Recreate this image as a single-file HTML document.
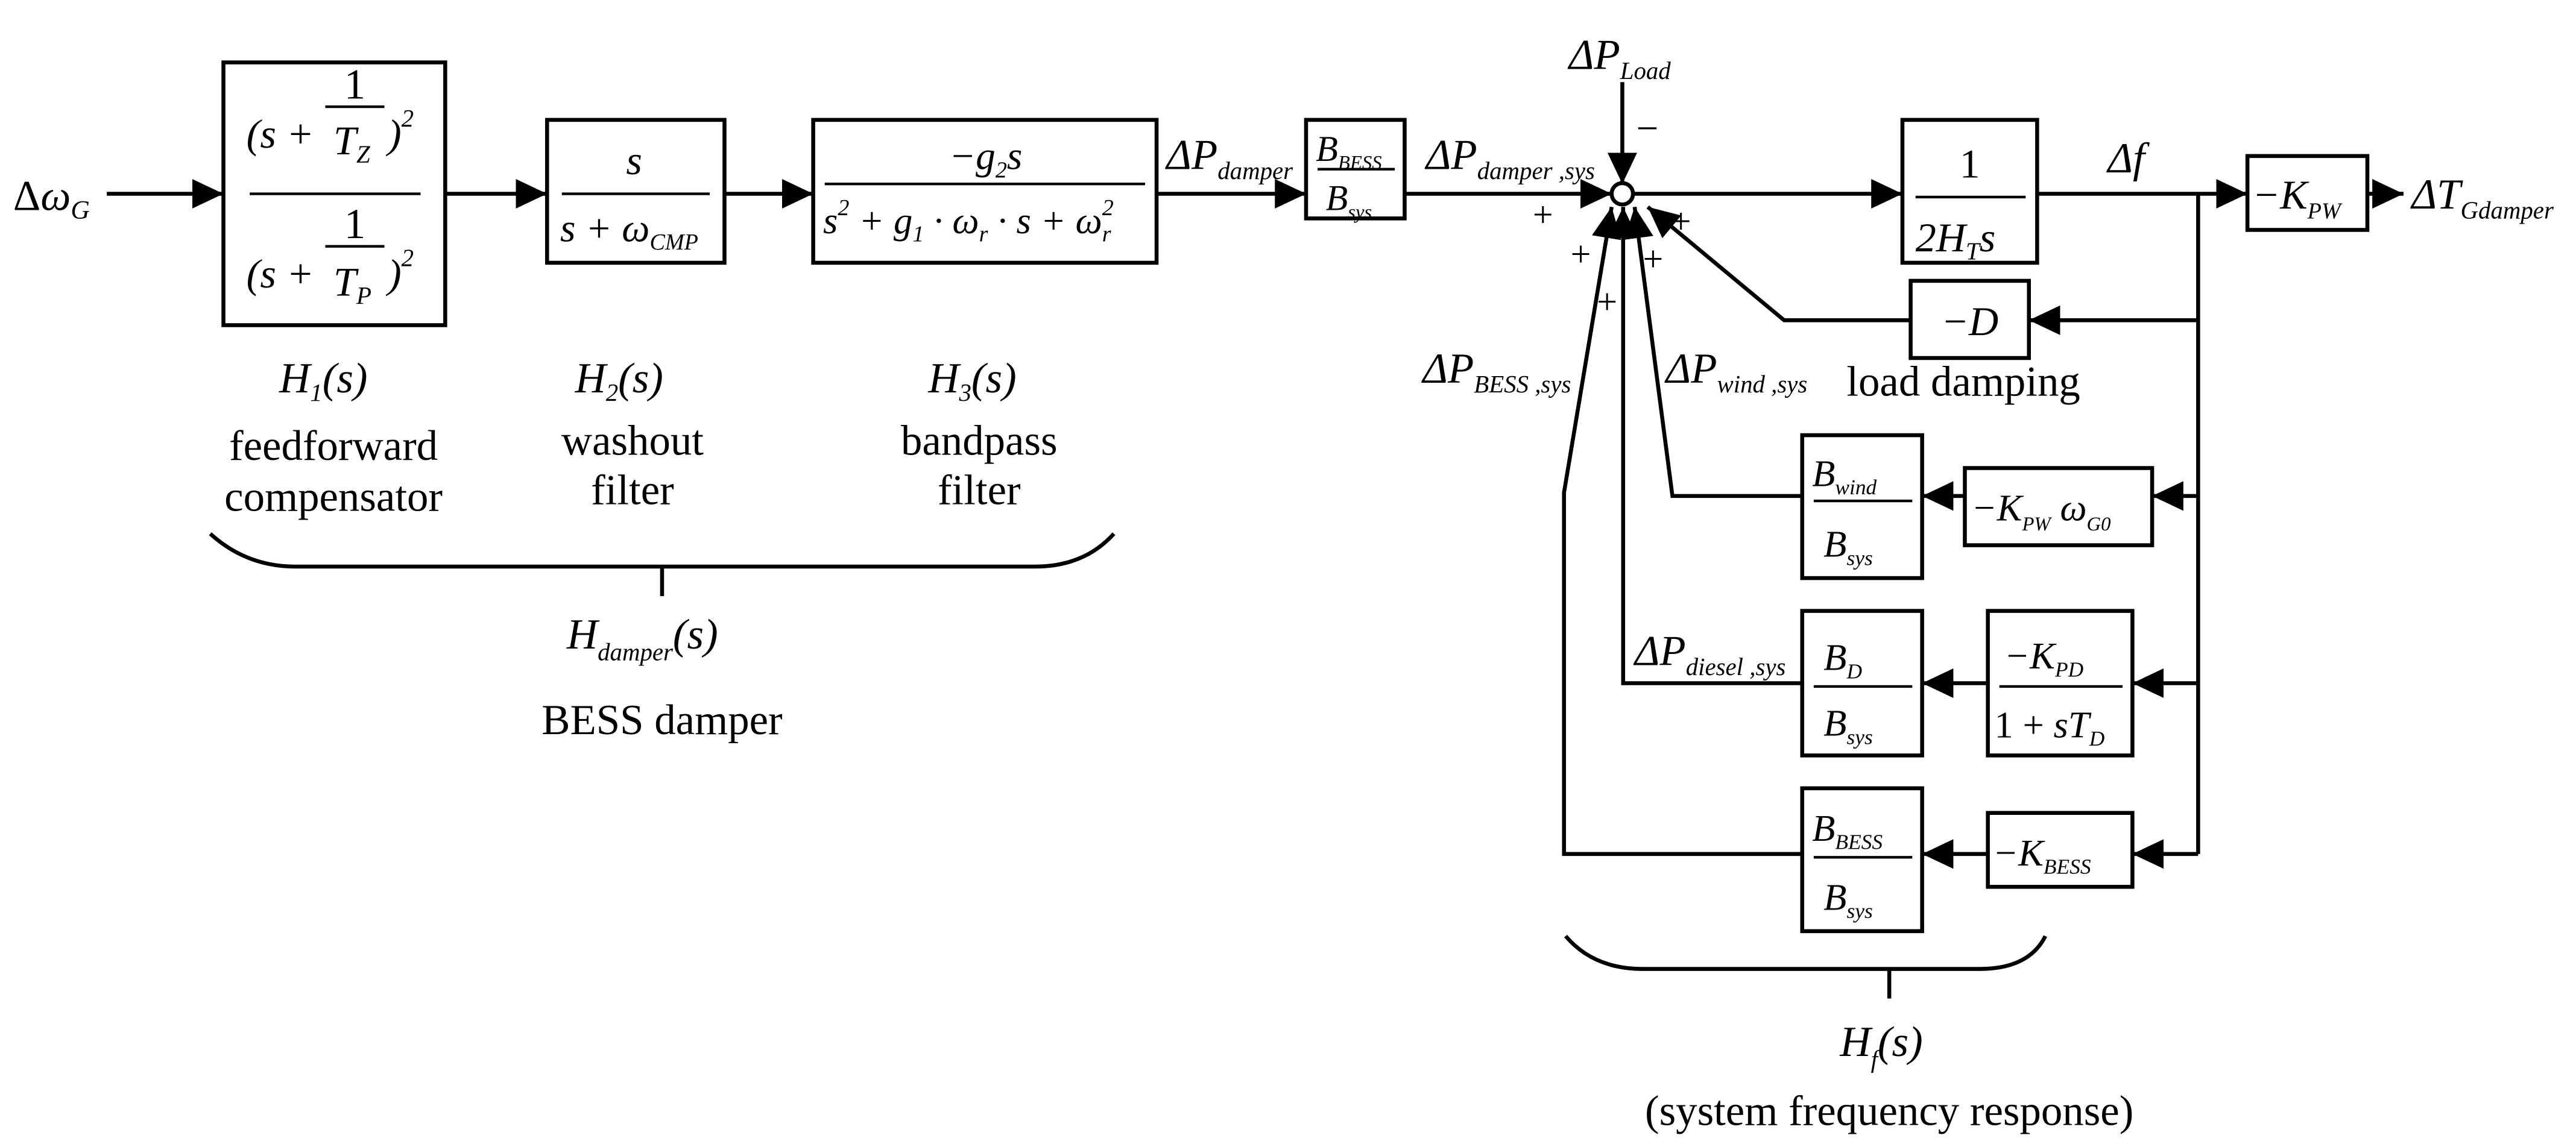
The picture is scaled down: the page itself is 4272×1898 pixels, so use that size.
<!DOCTYPE html>
<html><head><meta charset="utf-8"><style>
html,body{margin:0;padding:0;background:#fff;}
svg{display:block;}
text{font-family:"Liberation Serif",serif;fill:#000;}
.i{font-style:italic;}
</style></head><body>
<svg width="4272" height="1898" viewBox="0 0 1568 696.6" preserveAspectRatio="none" xmlns="http://www.w3.org/2000/svg">
<defs>
<marker id="a" markerUnits="userSpaceOnUse" markerWidth="22" markerHeight="18" refX="19" refY="9" orient="auto"><path d="M0,0 L19,9 L0,18 Z" fill="#000"/></marker>
</defs>
<g stroke="#000" stroke-width="2.4" fill="none">
<line x1="65" y1="118" x2="136" y2="118" marker-end="url(#a)"/>
<line x1="271" y1="118" x2="333" y2="118" marker-end="url(#a)"/>
<line x1="441" y1="118" x2="495" y2="118" marker-end="url(#a)"/>
<line x1="704" y1="118" x2="795" y2="118" marker-end="url(#a)"/>
<line x1="855" y1="118" x2="981" y2="118" marker-end="url(#a)"/>
<line x1="987.5" y1="50" x2="987.5" y2="112" marker-end="url(#a)"/>
<line x1="994" y1="118" x2="1158" y2="118" marker-end="url(#a)"/>
<line x1="1240" y1="118" x2="1368" y2="118" marker-end="url(#a)"/>
<line x1="1441" y1="118" x2="1463" y2="118" marker-end="url(#a)"/>
<line x1="1338" y1="118" x2="1338" y2="520"/>
<line x1="1338" y1="195" x2="1235" y2="195" marker-end="url(#a)"/>
<line x1="1338" y1="302" x2="1310" y2="302" marker-end="url(#a)"/>
<line x1="1196" y1="302" x2="1170" y2="302" marker-end="url(#a)"/>
<line x1="1338" y1="416" x2="1298" y2="416" marker-end="url(#a)"/>
<line x1="1210" y1="416" x2="1170" y2="416" marker-end="url(#a)"/>
<line x1="1338" y1="520" x2="1298" y2="520" marker-end="url(#a)"/>
<line x1="1210" y1="520" x2="1170" y2="520" marker-end="url(#a)"/>
<polyline points="1163,195 1086,195 1003,126" marker-end="url(#a)"/>
<polyline points="1097,302 1018,302 995,126" marker-end="url(#a)"/>
<polyline points="1097,416 988,416 988,126" marker-end="url(#a)"/>
<polyline points="1097,520 952,520 952,300 981,126" marker-end="url(#a)"/>
<rect x="136" y="38" width="135" height="160"/>
<rect x="333" y="73" width="108" height="87"/>
<rect x="495" y="73" width="209" height="87"/>
<rect x="795" y="73" width="60" height="60"/>
<rect x="1158" y="73" width="82" height="87"/>
<rect x="1368" y="95" width="73" height="45"/>
<rect x="1163" y="171" width="72" height="47"/>
<rect x="1097" y="265" width="73" height="87"/>
<rect x="1196" y="285" width="114" height="47"/>
<rect x="1097" y="372" width="73" height="88"/>
<rect x="1210" y="372" width="88" height="88"/>
<rect x="1097" y="480" width="73" height="87"/>
<rect x="1210" y="495" width="88" height="45"/>
<g stroke-width="1.6">
<line x1="152" y1="118" x2="256" y2="118"/>
<line x1="342" y1="118" x2="432" y2="118"/>
<line x1="502" y1="112" x2="697" y2="112"/>
<line x1="802" y1="103" x2="849" y2="103"/>
<line x1="1166" y1="120" x2="1233" y2="120"/>
<line x1="1104" y1="305" x2="1164" y2="305"/>
<line x1="1104" y1="418" x2="1164" y2="418"/>
<line x1="1217" y1="418" x2="1292" y2="418"/>
<line x1="1104" y1="522" x2="1164" y2="522"/>
<line x1="198" y1="65" x2="234" y2="65"/>
<line x1="198" y1="150" x2="234" y2="150"/>
</g>
<circle cx="987.5" cy="118" r="6.5" fill="#fff"/>
<path d="M128,325 Q150,345 180,345 L630,345 Q660,345 678,325"/>
<line x1="403" y1="345" x2="403" y2="363"/>
<path d="M953,570 Q970,590 1000,590 L1205,590 Q1235,590 1245,570"/>
<line x1="1150" y1="590" x2="1150" y2="608"/>
</g>
<g font-size="26">
<text x="8" y="128">Δ<tspan class="i">ω</tspan><tspan class="i" font-size="16" dy="5">G</tspan></text>
<text x="216" y="60" font-size="26" text-anchor="middle">1</text>
<text x="150" y="90" font-size="25" class="i">(s +<tspan x="236">)</tspan><tspan font-size="15" dy="-13">2</tspan></text>
<text x="203" y="94" font-size="25" class="i">T<tspan font-size="15" dy="5">Z</tspan></text>
<text x="216" y="145" font-size="26" text-anchor="middle">1</text>
<text x="150" y="175" font-size="25" class="i">(s +<tspan x="236">)</tspan><tspan font-size="15" dy="-13">2</tspan></text>
<text x="203" y="180" font-size="25" class="i">T<tspan font-size="15" dy="5">P</tspan></text>
<text x="386" y="106" font-size="25" class="i" text-anchor="middle">s</text>
<text x="341" y="147" font-size="24" class="i">s + ω<tspan font-size="14" dy="5">CMP</tspan></text>
<text x="600" y="103" font-size="24" class="i" text-anchor="middle">−g<tspan font-size="14" dy="5">2</tspan><tspan dy="-5">s</tspan></text>
<text x="501" y="142" font-size="23" class="i">s<tspan font-size="14" dy="-11">2</tspan><tspan dy="11"> + g</tspan><tspan font-size="14" dy="5">1</tspan><tspan dy="-5"> · ω</tspan><tspan font-size="14" dy="5">r</tspan><tspan dy="-5"> · s + ω</tspan><tspan font-size="14" dy="-11">2</tspan><tspan font-size="14" dx="-7" dy="16">r</tspan></text>
<text x="710" y="103" class="i">ΔP<tspan font-size="15" dy="6">damper</tspan></text>
<text x="801" y="98" font-size="22" class="i">B<tspan font-size="12" dy="5">BESS</tspan></text>
<text x="807" y="128" font-size="22" class="i">B<tspan font-size="12" dy="5">sys</tspan></text>
<text x="868" y="103" class="i">ΔP<tspan font-size="15" dy="6">damper ,sys</tspan></text>
<text x="955" y="42" class="i">ΔP<tspan font-size="15" dy="6">Load</tspan></text>
<text x="996" y="86" font-size="24">−</text>
<text x="933" y="138" font-size="22">+</text>
<text x="1017" y="142" font-size="22">+</text>
<text x="956" y="162" font-size="22">+</text>
<text x="1000" y="165" font-size="22">+</text>
<text x="972" y="191" font-size="22">+</text>
<text x="1199" y="108" font-size="25" text-anchor="middle">1</text>
<text x="1166" y="153" font-size="25" class="i">2H<tspan font-size="15" dy="5">T</tspan><tspan dy="-5">s</tspan></text>
<text x="1283" y="105" class="i">Δf</text>
<text x="1371" y="127" font-size="25" class="i">−K<tspan font-size="14" dy="6">PW</tspan></text>
<text x="1468" y="127" class="i">ΔT<tspan font-size="15" dy="6">Gdamper</tspan></text>
<text x="1199" y="204" font-size="25" class="i" text-anchor="middle">−D</text>
<text x="1124" y="241">load damping</text>
<text x="866" y="233" class="i">ΔP<tspan font-size="15" dy="6">BESS ,sys</tspan></text>
<text x="1014" y="233" class="i">ΔP<tspan font-size="15" dy="6">wind ,sys</tspan></text>
<text x="1103" y="296" font-size="23" class="i">B<tspan font-size="13" dy="5">wind</tspan></text>
<text x="1110" y="339" font-size="23" class="i">B<tspan font-size="13" dy="5">sys</tspan></text>
<text x="1200" y="317" font-size="23" class="i">−K<tspan font-size="12" dy="6">PW</tspan><tspan dy="-6"> ω</tspan><tspan font-size="12" dy="6">G0</tspan></text>
<text x="995" y="405" class="i">ΔP<tspan font-size="15" dy="6">diesel ,sys</tspan></text>
<text x="1110" y="408" font-size="23" class="i">B<tspan font-size="13" dy="5">D</tspan></text>
<text x="1110" y="448" font-size="23" class="i">B<tspan font-size="13" dy="5">sys</tspan></text>
<text x="1220" y="407" font-size="23" class="i">−K<tspan font-size="13" dy="5">PD</tspan></text>
<text x="1214" y="449" font-size="23">1 + <tspan class="i">sT</tspan><tspan class="i" font-size="13" dy="5">D</tspan></text>
<text x="1103" y="512" font-size="23" class="i">B<tspan font-size="13" dy="5">BESS</tspan></text>
<text x="1110" y="554" font-size="23" class="i">B<tspan font-size="13" dy="5">sys</tspan></text>
<text x="1213" y="527" font-size="23" class="i">−K<tspan font-size="13" dy="5">BESS</tspan></text>
<text x="170" y="239" class="i">H<tspan font-size="15" dy="5">1</tspan><tspan dy="-5">(s)</tspan></text>
<text x="350" y="239" class="i">H<tspan font-size="15" dy="5">2</tspan><tspan dy="-5">(s)</tspan></text>
<text x="565" y="239" class="i">H<tspan font-size="15" dy="5">3</tspan><tspan dy="-5">(s)</tspan></text>
<text x="203" y="280" text-anchor="middle">feedforward</text>
<text x="203" y="311" text-anchor="middle">compensator</text>
<text x="385" y="277" text-anchor="middle">washout</text>
<text x="385" y="307" text-anchor="middle">filter</text>
<text x="596" y="277" text-anchor="middle">bandpass</text>
<text x="596" y="307" text-anchor="middle">filter</text>
<text x="345" y="395" class="i">H<tspan font-size="15" dy="7">damper</tspan><tspan dy="-7">(s)</tspan></text>
<text x="403" y="447" text-anchor="middle">BESS damper</text>
<text x="1120" y="643" class="i">H<tspan font-size="15" dy="7">f</tspan><tspan dy="-7">(s)</tspan></text>
<text x="1150" y="685" text-anchor="middle">(system frequency response)</text>
</g>
</svg>
</body></html>
